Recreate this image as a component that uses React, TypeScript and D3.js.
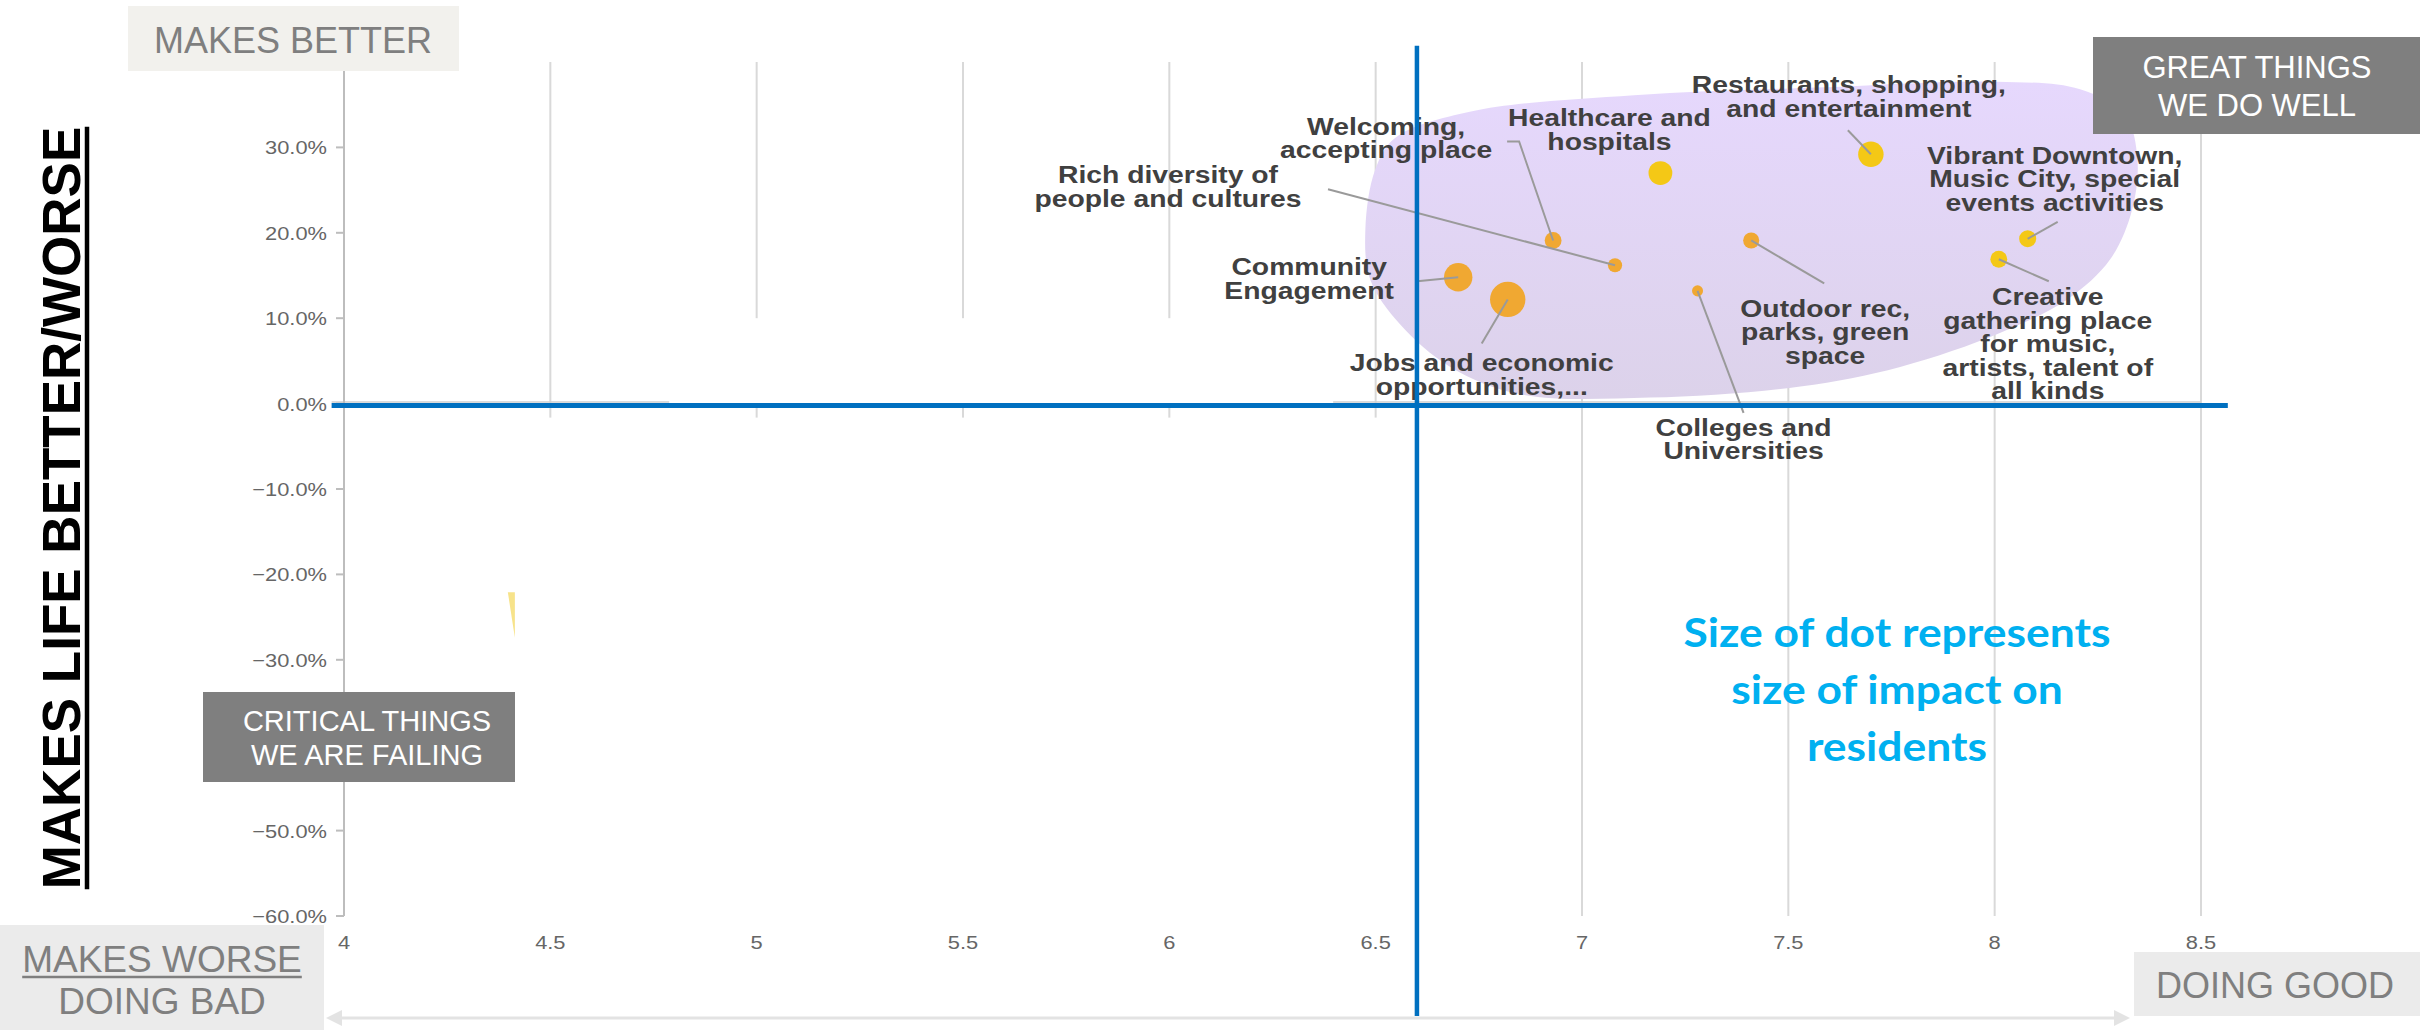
import React, { useEffect, useRef } from 'react';
import * as d3 from 'd3';

const W = 2420;
const H = 1030;

// ---- data ----
const categories = [
  'Restaurants, shopping, and entertainment',
  'Healthcare and hospitals',
  'Welcoming, accepting place',
  'Rich diversity of people and cultures',
  'Community Engagement',
  'Jobs and economic opportunities,...',
  'Colleges and Universities',
  'Outdoor rec, parks, green space',
  'Vibrant Downtown, Music City, special events activities',
  'Creative gathering place for music, artists, talent of all kinds',
];
const labelLines = [
  ['Restaurants, shopping,', 'and entertainment'],
  ['Healthcare and', 'hospitals'],
  ['Welcoming,', 'accepting place'],
  ['Rich diversity of', 'people and cultures'],
  ['Community', 'Engagement'],
  ['Jobs and economic', 'opportunities,...'],
  ['Colleges and', 'Universities'],
  ['Outdoor rec,', 'parks, green', 'space'],
  ['Vibrant Downtown,', 'Music City, special', 'events activities'],
  ['Creative', 'gathering place', 'for music,', 'artists, talent of', 'all kinds'],
];
// doing bad -> doing good
const performance = [7.7, 7.19, 6.93, 7.08, 6.7, 6.82, 7.28, 7.41, 8.08, 8.01];
// makes life better / worse (%)
const lifeImpact = [29.2, 27.0, 19.1, 16.2, 14.8, 12.2, 13.2, 19.1, 19.3, 16.9];
// size of impact on residents
const residentsImpact = [16, 14, 7, 5, 20, 31, 3, 6.4, 7.2, 7];
const dotGroup = ['yellow', 'yellow', 'orange', 'orange', 'orange', 'orange', 'orange', 'orange', 'yellow', 'yellow'];

const xTicks = [4, 4.5, 5, 5.5, 6, 6.5, 7, 7.5, 8, 8.5];
const yTicks = [-60, -50, -40, -30, -20, -10, 0, 10, 20, 30];
// -40% sits under the "critical things" box in the slide
const hiddenYLabels = [-40];

// the quadrant split lines
const splitX = 6.6;
const splitY = 0;

// the "great things" blob outline (data space)
const blobX = [6.475, 6.499, 6.547, 6.731, 7.126, 7.565, 8.004, 8.207, 8.316, 8.346, 8.333, 8.28, 8.176, 8.014, 7.771, 7.529, 7.165, 6.85, 6.681, 6.559, 6.487];
const blobY = [20.4, 27.4, 31.1, 34.2, 36.1, 37.0, 37.7, 36.8, 33.8, 28.6, 22.7, 16.9, 12.2, 8.3, 4.3, 2.0, 0.7, 1.1, 4.3, 9.3, 14.5];
// a sliver of the hidden "critical" blob
const wedgeX = [4.397, 4.414, 4.414];
const wedgeY = [-22.1, -22.1, -27.4];

// label layout, pixel offsets from each dot
const labelOffsets = [
  [-22, -69], [-51, -55], [-167, -114], [-447, -90], [-149, -10],
  [-26, 64], [46, 137], [74, 68], [27, -83], [49, 38],
];
const leaderPaths = [
  [[-23, -24], [0, 0]],
  [],
  [[-46, -99], [-34, -99], [0, 0]],
  [[-287, -76], [0, 0]],
  [[-41, 4], [0, 0]],
  [[-26, 44], [0, 0]],
  [[46, 122], [0, 0]],
  [[73, 43], [0, 0]],
  [[30, -17], [0, 0]],
  [[50, 22], [0, 0]],
];

const SANS = '"Liberation Sans", Arial, sans-serif';

const App: React.FC = () => {
  const ref = useRef<SVGSVGElement>(null);

  useEffect(() => {
    if (!ref.current) return;
    document.body.style.margin = '0';
    const svg = d3.select(ref.current);
    svg.selectAll('*').remove();

    const x = d3.scaleLinear().domain([4, 8.5]).range([344, 2201]);
    const y = d3.scaleLinear().domain([-60, 40]).range([916, 62]);
    const r = d3.scaleSqrt().domain([0, d3.max(residentsImpact) as number]).range([0, 17.7]);
    const color = d3.scaleOrdinal<string, string>().domain(['orange', 'yellow']).range(['#F0A832', '#F4C816']);

    const defs = svg.append('defs');
    const grad = defs.append('linearGradient').attr('id', 'blobGrad')
      .attr('x1', 0).attr('y1', 0).attr('x2', 0).attr('y2', 1);
    grad.append('stop').attr('offset', '0%').attr('stop-color', '#E6D8FD');
    grad.append('stop').attr('offset', '100%').attr('stop-color', '#DCD2EA');

    svg.append('rect').attr('width', W).attr('height', H).attr('fill', '#fff');

    // vertical gridlines
    svg.append('g').selectAll('line').data(xTicks.slice(1)).join('line')
      .attr('x1', d => x(d)).attr('x2', d => x(d))
      .attr('y1', y(40)).attr('y2', y(-60))
      .attr('stroke', '#d9d9d9').attr('stroke-width', 2);

    // zero gridline (mostly hidden)
    svg.append('line')
      .attr('x1', x(3.97)).attr('x2', x(8.5))
      .attr('y1', y(0) - 1.5).attr('y2', y(0) - 1.5)
      .attr('stroke', '#cfcfcf').attr('stroke-width', 1.5);

    // y axis
    svg.append('line')
      .attr('x1', x(4)).attr('x2', x(4)).attr('y1', y(40)).attr('y2', y(-60))
      .attr('stroke', '#bdbdbd').attr('stroke-width', 2);
    const yg = svg.append('g');
    yg.selectAll('line').data(yTicks).join('line')
      .attr('x1', x(4) - 8).attr('x2', x(4))
      .attr('y1', d => y(d)).attr('y2', d => y(d))
      .attr('stroke', '#bdbdbd').attr('stroke-width', 2);
    yg.selectAll('text').data(yTicks.filter(d => !hiddenYLabels.includes(d))).join('text')
      .attr('transform', d => `translate(${x(4) - 17},${y(d)}) scale(1.15,1)`)
      .attr('text-anchor', 'end').attr('dominant-baseline', 'central')
      .attr('font-family', SANS).attr('font-size', 19).attr('fill', '#666')
      .text(d => d3.format('.1f')(d) + '%');

    // x tick labels
    svg.append('g').selectAll('text').data(xTicks).join('text')
      .attr('transform', d => `translate(${x(d)},${942}) scale(1.15,1)`)
      .attr('text-anchor', 'middle').attr('dominant-baseline', 'central')
      .attr('font-family', SANS).attr('font-size', 19).attr('fill', '#666')
      .text(d => String(d));

    // white covers from the slide
    svg.append('rect')
      .attr('x', x(4.415)).attr('y', y(0) + 14)
      .attr('width', x(6.585) - x(4.415)).attr('height', y(-62) - y(0) - 14)
      .attr('fill', '#fff');
    svg.append('rect')
      .attr('x', x(4.788)).attr('y', y(10))
      .attr('width', x(6.397) - x(4.788)).attr('height', y(0) - y(10) + 1)
      .attr('fill', '#fff');

    const poly = d3.line<number>().x(i => x(wedgeX[i])).y(i => y(wedgeY[i]));
    svg.append('path').attr('d', poly(d3.range(wedgeX.length)) + 'Z').attr('fill', '#F7E38A');

    // blob
    const blob = d3.line<number>()
      .x(i => x(blobX[i])).y(i => y(blobY[i]))
      .curve(d3.curveCatmullRomClosed.alpha(0.5));
    svg.append('path').attr('d', blob(d3.range(blobX.length)))
      .attr('fill', 'url(#blobGrad)');

    const idx = d3.range(categories.length);

    // dots
    svg.append('g').selectAll('circle').data(idx).join('circle')
      .attr('cx', i => x(performance[i])).attr('cy', i => y(lifeImpact[i]))
      .attr('r', i => r(residentsImpact[i]))
      .attr('fill', i => color(dotGroup[i]));

    // leader lines
    const leader = d3.line<number[]>();
    svg.append('g').selectAll('path').data(idx.filter(i => leaderPaths[i].length)).join('path')
      .attr('d', i => leader(leaderPaths[i].map(p => [x(performance[i]) + p[0], y(lifeImpact[i]) + p[1]] as [number, number])))
      .attr('fill', 'none').attr('stroke', '#9a9a9a').attr('stroke-width', 2);

    // labels
    const lg = svg.append('g').selectAll('g').data(idx).join('g')
      .attr('transform', i => `translate(${x(performance[i]) + labelOffsets[i][0]},${y(lifeImpact[i]) + labelOffsets[i][1]}) scale(1.23,1)`);
    lg.selectAll('text').data(i => labelLines[i].map((t, k) => ({ t, k }))).join('text')
      .attr('y', d => d.k * 23.5)
      .attr('text-anchor', 'middle').attr('dominant-baseline', 'central')
      .attr('font-family', SANS).attr('font-weight', 'bold').attr('font-size', 23)
      .attr('fill', '#404040')
      .text(d => d.t);

    // quadrant split lines
    svg.append('line')
      .attr('x1', x(3.97)).attr('x2', x(8.565))
      .attr('y1', y(splitY) + 2).attr('y2', y(splitY) + 2)
      .attr('stroke', '#0070C0').attr('stroke-width', 5);
    svg.append('line')
      .attr('x1', x(splitX)).attr('x2', x(splitX))
      .attr('y1', y(41.9)).attr('y2', y(-71.7))
      .attr('stroke', '#0070C0').attr('stroke-width', 4.5);

    // bottom double arrow
    const ay = 1018;
    svg.append('line').attr('x1', 330).attr('x2', 2125).attr('y1', ay).attr('y2', ay)
      .attr('stroke', '#e3e3e3').attr('stroke-width', 3);
    svg.append('path').attr('d', `M326,${ay} l16,-8 l0,16 Z`).attr('fill', '#e3e3e3');
    svg.append('path').attr('d', `M2130,${ay} l-16,-8 l0,16 Z`).attr('fill', '#e3e3e3');

    // corner boxes
    svg.append('rect').attr('x', 128).attr('y', 6).attr('width', 331).attr('height', 65).attr('fill', '#F2F1ED');
    svg.append('text').attr('x', 293).attr('y', 53).attr('text-anchor', 'middle')
      .attr('font-family', SANS).attr('font-size', 36).attr('fill', '#7f7f7f').text('MAKES BETTER');

    svg.append('rect').attr('x', 2093).attr('y', 37).attr('width', 327).attr('height', 97).attr('fill', '#7f7f7f');
    ['GREAT THINGS', 'WE DO WELL'].forEach((t, k) => {
      svg.append('text').attr('x', 2257).attr('y', 67 + k * 38).attr('text-anchor', 'middle')
        .attr('dominant-baseline', 'central')
        .attr('font-family', SANS).attr('font-size', 31).attr('fill', '#fff').text(t);
    });

    svg.append('rect').attr('x', 203).attr('y', 692).attr('width', 312).attr('height', 90).attr('fill', '#7f7f7f');
    ['CRITICAL THINGS', 'WE ARE FAILING'].forEach((t, k) => {
      svg.append('text').attr('x', 367).attr('y', 721 + k * 34).attr('text-anchor', 'middle')
        .attr('dominant-baseline', 'central')
        .attr('font-family', SANS).attr('font-size', 29).attr('fill', '#fff').text(t);
    });

    svg.append('rect').attr('x', 0).attr('y', 925).attr('width', 324).attr('height', 105).attr('fill', '#EBEBEB');
    const mw = svg.append('text').attr('x', 162).attr('y', 972).attr('text-anchor', 'middle')
      .attr('font-family', SANS).attr('font-size', 37).attr('fill', '#7f7f7f').text('MAKES WORSE');
    const mwLen = (mw.node() as SVGTextElement).getComputedTextLength();
    svg.append('line').attr('x1', 162 - mwLen / 2).attr('x2', 162 + mwLen / 2)
      .attr('y1', 977).attr('y2', 977).attr('stroke', '#7f7f7f').attr('stroke-width', 2.5);
    svg.append('text').attr('x', 162).attr('y', 1014).attr('text-anchor', 'middle')
      .attr('font-family', SANS).attr('font-size', 37).attr('fill', '#7f7f7f').text('DOING BAD');

    svg.append('rect').attr('x', 2134).attr('y', 952).attr('width', 286).attr('height', 64).attr('fill', '#EBEBEB');
    svg.append('text').attr('x', 2275).attr('y', 998).attr('text-anchor', 'middle')
      .attr('font-family', SANS).attr('font-size', 36).attr('fill', '#7f7f7f').text('DOING GOOD');

    // y axis title
    const yt = svg.append('text')
      .attr('transform', 'translate(80,508) rotate(-90)')
      .attr('text-anchor', 'middle')
      .attr('font-family', SANS).attr('font-weight', 'bold').attr('font-size', 53).attr('fill', '#000')
      .text('MAKES LIFE BETTER/WORSE');
    const ytLen = (yt.node() as SVGTextElement).getComputedTextLength();
    svg.append('line').attr('x1', 87).attr('x2', 87)
      .attr('y1', 508 - ytLen / 2).attr('y2', 508 + ytLen / 2)
      .attr('stroke', '#000').attr('stroke-width', 4.5);

    // note
    const note = svg.append('g');
    const noteLines = ['Size of dot represents', 'size of impact on', 'residents'];
    const nt = note.selectAll('text').data(noteLines).join('text')
      .attr('x', 0).attr('y', (_, k) => k * 57)
      .attr('text-anchor', 'middle')
      .attr('font-family', 'Lato, "Open Sans", sans-serif').attr('font-weight', 'bold')
      .attr('font-size', 40).attr('fill', '#00B0F0')
      .text(d => d);
    const firstLen = (nt.node() as SVGTextElement).getComputedTextLength();
    note.attr('transform', `translate(1897,647) scale(${427 / firstLen},1)`);
  }, []);

  return (
    <svg ref={ref} width={W} height={H} viewBox={`0 0 ${W} ${H}`} style={{ display: 'block' }} />
  );
};

export default App;
